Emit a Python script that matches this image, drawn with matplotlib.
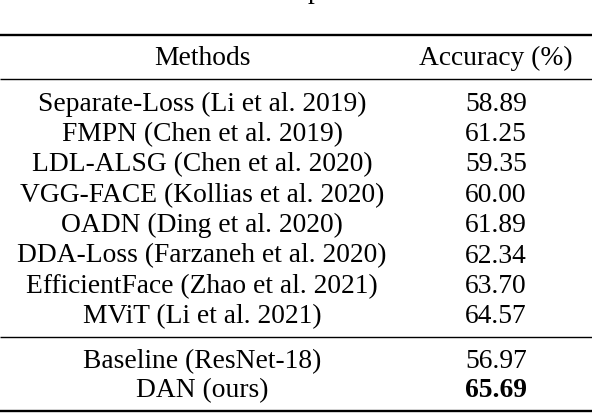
import matplotlib
matplotlib.use("Agg")
import matplotlib.pyplot as plt

METHODS = [
    "Separate-Loss (Li et al. 2019)",
    "FMPN (Chen et al. 2019)",
    "LDL-ALSG (Chen et al. 2020)",
    "VGG-FACE (Kollias et al. 2020)",
    "OADN (Ding et al. 2020)",
    "DDA-Loss (Farzaneh et al. 2020)",
    "EfficientFace (Zhao et al. 2021)",
    "MViT (Li et al. 2021)",
]
ACCURACY = ["58.89", "61.25", "59.35", "60.00", "61.89", "62.34", "63.70", "64.57"]
OURS_METHODS = ["Baseline (ResNet-18)", "DAN (ours)"]
OURS_ACCURACY = ["56.97", "65.69"]
HEADERS = ["Methods", "Accuracy (%)"]

W, H = 592, 414
FONT = "Liberation Serif"
FS = 19.8
COL_X = [202, 496]

fig = plt.figure(figsize=(W / 100, H / 100), dpi=100)
ax = fig.add_axes([0, 0, 1, 1])
ax.set_xlim(0, W)
ax.set_ylim(H, 0)
ax.axis("off")

def row(y, cells, bold_last=False):
    for i, (x, s) in enumerate(zip(COL_X, cells)):
        w = "bold" if (bold_last and i == 1) else "normal"
        ax.text(x, y, s, ha="center", va="baseline", family=FONT,
                fontsize=FS, fontweight=w, color="black")

# cut-off caption line above the table (only a descender is visible)
ax.text(314.5, -2.5, "p", ha="center", va="baseline", family=FONT, fontsize=FS)

# rules
for y, lw in [(35.7, 1.7), (80, 1.0), (338.3, 1.0), (411.7, 1.7)]:
    ax.plot([0, W], [y, y], color="black", lw=lw, solid_capstyle="butt")

row(65, HEADERS)
y0, step = 110.7, 30.37
for k, (m, a) in enumerate(zip(METHODS, ACCURACY)):
    row(y0 + k * step, [m, a])
for k, (m, a) in enumerate(zip(OURS_METHODS, OURS_ACCURACY)):
    row(368.3 + k * 28.4, [m, a], bold_last=(k == 1))

fig.savefig("out.png", dpi=100, facecolor="white")
